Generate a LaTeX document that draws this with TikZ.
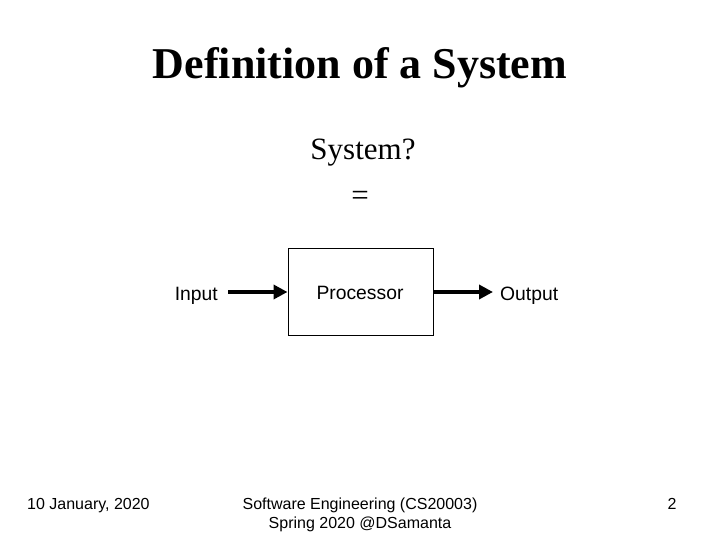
\documentclass[tikz,border=0pt]{standalone}
\usepackage{fontspec}
\setmainfont{Liberation Serif}
\newfontfamily\arialf{Liberation Sans}
\usetikzlibrary{arrows.meta}
\begin{document}
\begin{tikzpicture}[x=1pt,y=-1pt,
  lbl/.style={font=\arialf\fontsize{19.3}{22}\selectfont, inner sep=0pt},
  foot/.style={font=\arialf\fontsize{16}{19}\selectfont, inner sep=0pt},
  flow/.style={line width=3.6pt, -{Triangle[length=14pt,width=14pt]}}]
\useasboundingbox (0,0) rectangle (720,540);
\node[font=\bfseries\fontsize{44}{50}\selectfont, inner sep=0pt] (title) at (360,68) {Definition of a System};
\node[font=\fontsize{31}{36}\selectfont, inner sep=0pt] (q) at (363,153) {System?};
\node[font=\fontsize{31}{36}\selectfont, inner sep=0pt] (eq) at (360,198) {=};
\node[draw, line width=1pt, minimum width=145pt, minimum height=87pt, inner sep=0pt] (proc) at (360.5,292) {};
\node[lbl, anchor=base] (ptxt) at (360,299) {Processor};
\node[lbl, anchor=base east] (in) at (218,300) {Input};
\node[lbl, anchor=base west] (out) at (500,300) {Output};
\coordinate (ina) at (228,292);
\coordinate (outa) at (493,292);
\draw[flow] (ina) -- (proc.west |- ina);
\draw[flow] (proc.east |- outa) -- (outa);
\node[foot, anchor=base west] (date) at (27,509) {10 January, 2020};
\node[foot, anchor=base] (course1) at (360,509) {Software Engineering (CS20003)};
\node[foot, anchor=base] (course2) at (360,528) {Spring 2020 @DSamanta};
\node[foot, anchor=base] (page) at (672,509) {2};
\end{tikzpicture}
\end{document}
